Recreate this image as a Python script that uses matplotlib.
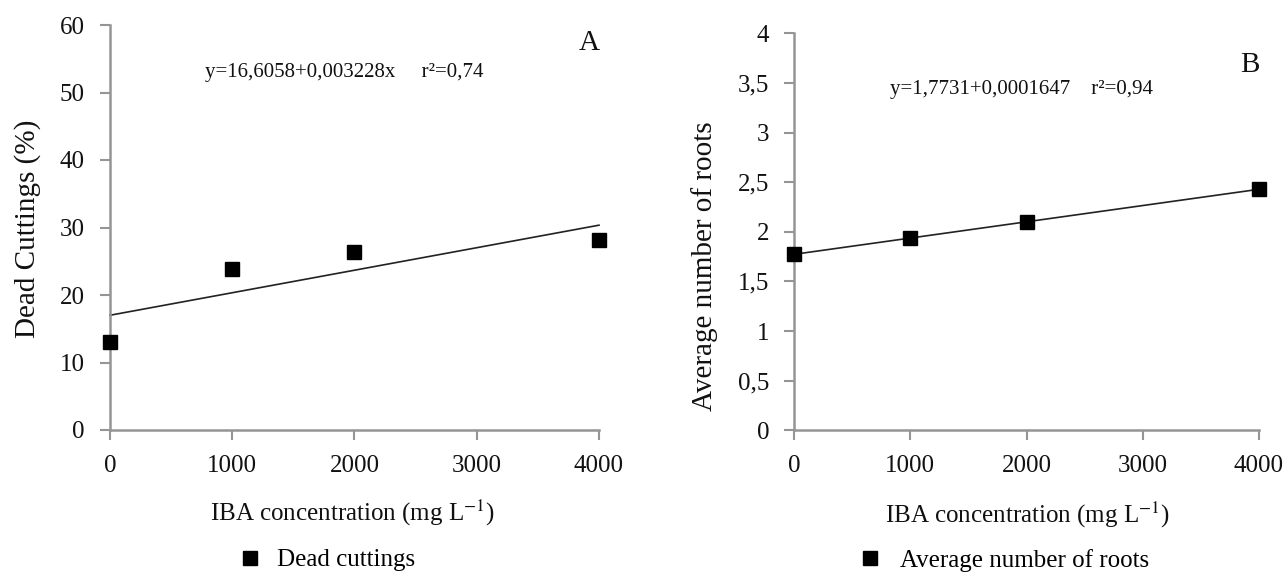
import numpy as np
import matplotlib
matplotlib.use("Agg")
import matplotlib.pyplot as plt

plt.rcParams['font.family'] = ['Liberation Serif', 'DejaVu Serif']
plt.rcParams['mathtext.fontset'] = 'stix'

# Data
iba = [0, 1000, 2000, 4000]
dead_cuttings = [13.0, 23.85, 26.4, 28.1]
avg_roots = [1.773, 1.94, 2.096, 2.43]

a_yticks = [0, 10, 20, 30, 40, 50, 60]
a_yticklabels = ['0', '10', '20', '30', '40', '50', '60']
b_yticks = [0, 0.5, 1, 1.5, 2, 2.5, 3, 3.5, 4]
b_yticklabels = ['0', '0,5', '1', '1,5', '2', '2,5', '3', '3,5', '4']
xticks = [0, 1000, 2000, 3000, 4000]
xticklabels = ['0', '1000', '2000', '3000', '4000']

eq_a = "y=16,6058+0,003228x     r²=0,74"
eq_b = "y=1,7731+0,0001647    r²=0,94"

W, H = 1286, 573
fig = plt.figure(figsize=(W / 100, H / 100), dpi=100)

axA = fig.add_axes([110 / W, (H - 430) / H, 489 / W, 405 / H])
axB = fig.add_axes([794 / W, (H - 430.3) / H, 465 / W, 397 / H])

spine_col = '#959595'
text_col = '#111111'
tick_fs = 18

def style(ax, yticks, ylabels, ylim):
    ax.set_xlim(0, 4000)
    ax.set_ylim(*ylim)
    for s in ['top', 'right']:
        ax.spines[s].set_visible(False)
    for s in ['left', 'bottom']:
        ax.spines[s].set_color(spine_col)
        ax.spines[s].set_linewidth(1.8)
    ax.set_xticks(xticks)
    ax.set_xticklabels(xticklabels)
    ax.set_yticks(yticks)
    ax.set_yticklabels(ylabels)
    ax.tick_params(axis='both', direction='out', length=7, width=1.5,
                   color=spine_col, labelsize=tick_fs, labelcolor=text_col)
    ax.tick_params(axis='x', pad=11)
    ax.tick_params(axis='y', pad=11)

xs = np.array([0, 4000])

# Panel A
style(axA, a_yticks, a_yticklabels, (0, 60))
ka, ba = np.polyfit(iba, dead_cuttings, 1)
axA.plot(xs, ba + ka * xs, color='#222222', lw=1.2, clip_on=False)
axA.plot(iba, dead_cuttings, 's', color='black', ms=10.5, clip_on=False,
         zorder=5, label='Dead cuttings')
axA.set_ylabel('Dead Cuttings (%)', fontsize=21, color=text_col)
axA.yaxis.set_label_coords(-0.141, 0.496)
axA.set_xlabel(r'IBA concentration (mg L$^{-1}$)', fontsize=18, color=text_col)
axA.xaxis.set_label_coords(0.495, -0.168)
axA.text(777, 53.0, eq_a, fontsize=15, va='center', ha='left', color=text_col)
axA.text(3918, 57.3, 'A', fontsize=21, va='center', ha='center', color=text_col)
axA.legend(loc='center left', bbox_to_anchor=(0.26, -0.321), frameon=False,
           fontsize=18, handlelength=1.0, handletextpad=0.6,
           borderpad=0, borderaxespad=0)

# Panel B
style(axB, b_yticks, b_yticklabels, (0, 4))
kb, bb = np.polyfit(iba, avg_roots, 1)
axB.plot(xs, bb + kb * xs, color='#222222', lw=1.2, clip_on=False)
axB.plot(iba, avg_roots, 's', color='black', ms=10.5, clip_on=False,
         zorder=5, label='Average number of roots')
axB.set_ylabel('Average number of roots', fontsize=21, color=text_col)
axB.yaxis.set_label_coords(-0.163, 0.413)
axB.set_xlabel(r'IBA concentration (mg L$^{-1}$)', fontsize=18, color=text_col)
axB.xaxis.set_label_coords(0.503, -0.176)
axB.text(826, 3.43, eq_b, fontsize=15, va='center', ha='left', color=text_col)
axB.text(3918, 3.68, 'B', fontsize=21, va='center', ha='center', color=text_col)
axB.legend(loc='center left', bbox_to_anchor=(0.1355, -0.327), frameon=False,
           fontsize=18, handlelength=1.0, handletextpad=0.72,
           borderpad=0, borderaxespad=0)

fig.savefig('out.png', dpi=100, facecolor='white')
